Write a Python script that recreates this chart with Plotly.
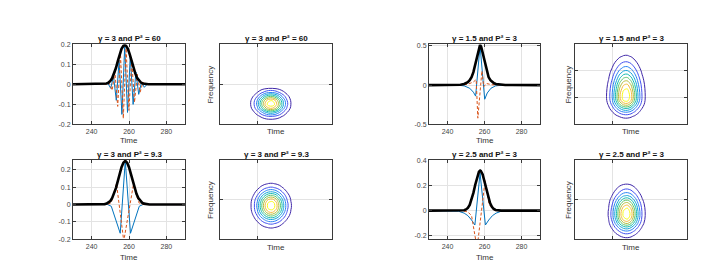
import plotly.graph_objects as go
from plotly.subplots import make_subplots

# ---------------- data ----------------
titles = {
    "a": "γ = 3 and P² = 60",
    "c": "γ = 3 and P² = 9.3",
    "e": "γ = 1.5 and P² = 3",
    "g": "γ = 2.5 and P² = 3",
}

time_ticks = [240, 260, 280]
time_tick_labels = ["240", "260", "280"]

# panel a: gamma = 3, P^2 = 60
env_t_a = [230, 245, 247, 248, 249, 250, 251, 252, 253, 254, 255, 256, 257, 257.7, 258.4, 259.4,
           260.4, 261.4, 262.4, 263.4, 264.4, 265.4, 266.4, 267.4, 268.4, 270.4, 290]
env_a = [0, 0.0002, 0.0017, 0.0039, 0.0086, 0.017, 0.031, 0.053, 0.081, 0.115, 0.149, 0.177, 0.192,
         0.195, 0.192, 0.177, 0.149, 0.115, 0.081, 0.053, 0.031, 0.017, 0.0086, 0.0039, 0.0017, 0.0002, 0]
re_t_a = [230, 247.2, 248.7, 250.2, 251.7, 253.2, 254.7, 256.2, 257.7, 259.2, 260.7, 262.2,
          263.7, 265.2, 266.7, 268.2, 269.7, 290]
re_a = [0, 0, 0.005, -0.02, 0.04, -0.08, 0.12, -0.15, 0.19, -0.14, 0.14, -0.10,
        0.06, -0.05, 0.01, -0.015, 0, 0]
im_t_a = [230, 247.9, 249.45, 250.95, 252.45, 253.95, 255.45, 256.95, 258.45, 259.95, 261.45,
          262.95, 264.45, 265.95, 267.45, 268.95, 290]
im_a = [0, 0, 0.005, -0.03, 0.06, -0.11, 0.15, -0.17, 0.18, -0.13, 0.12,
        -0.09, 0.05, -0.04, 0.01, 0, 0]

# panel c: gamma = 3, P^2 = 9.3
env_t_c = [230, 245, 247, 248, 249, 250, 251, 252, 253, 254, 255, 256, 257, 258, 259, 260, 261,
           262, 263, 264, 265, 266, 267, 268, 269, 271, 290]
env_c = [0, 0.0003, 0.0022, 0.005, 0.0104, 0.020, 0.037, 0.061, 0.094, 0.134, 0.176, 0.214, 0.240,
         0.25, 0.240, 0.214, 0.176, 0.134, 0.094, 0.061, 0.037, 0.020, 0.0104, 0.005, 0.0022, 0.0003, 0]
re_t_c = [230, 248.5, 250.5, 255.3, 258.0, 260.8, 265.5, 267.5, 290]
re_c = [0, 0, -0.01, -0.165, 0.25, -0.165, -0.01, 0, 0]
im_t_c = [230, 248.5, 250.5, 253.3, 257.2, 262.3, 265.3, 267.5, 290]
im_c = [0, 0, 0.01, 0.12, -0.21, 0.11, 0.01, 0, 0]

# panel e: gamma = 1.5, P^2 = 3
env_t_e = [230, 240, 244, 247, 249, 250, 251, 252, 253, 254, 255, 256, 256.5, 257, 257.6, 258.2,
           258.7, 259.2, 260.2, 261.2, 262.2, 263.2, 264.2, 265.2, 266.2, 268.2, 271.2, 275, 290]
env_e = [0, 0.0002, 0.0011, 0.0051, 0.0138, 0.0228, 0.0376, 0.0619, 0.1015, 0.164, 0.259, 0.381,
         0.440, 0.488, 0.51, 0.488, 0.440, 0.381, 0.259, 0.164, 0.1015, 0.0619, 0.0376, 0.0228,
         0.0138, 0.0051, 0.0011, 0.0002, 0]
re_t_e = [230, 245, 249, 252, 254, 255.2, 257.6, 260.1, 261.5, 263.5, 266, 270, 290]
re_e = [0, 0, -0.01, -0.04, -0.09, -0.14, 0.5, -0.18, -0.1, -0.04, -0.01, 0, 0]
im_t_e = [230, 246, 251, 254, 255.5, 256.4, 257.2, 258.6, 259.6, 261, 264, 268, 290]
im_e = [0, 0, 0.01, 0.04, 0.07, -0.42, -0.2, 0.18, -0.02, 0.02, 0.005, 0, 0]

# panel g: gamma = 2.5, P^2 = 3
env_t_g = [230, 245, 248, 249, 250, 251, 252, 253, 254, 255, 256, 257, 257.7, 258, 259, 260, 261,
           262, 263, 264, 265, 266, 267, 269, 290]
env_g = [0, 0, 0.0012, 0.0036, 0.0094, 0.022, 0.046, 0.086, 0.142, 0.207, 0.269, 0.311, 0.32,
         0.318, 0.289, 0.234, 0.167, 0.107, 0.060, 0.030, 0.013, 0.0053, 0.0019, 0.0002, 0]
re_t_g = [230, 240, 246, 249, 251, 253, 254.8, 257.6, 260.5, 262.3, 264.3, 266.3, 269, 275, 290]
re_g = [0, 0, -0.005, -0.02, -0.04, -0.075, -0.115, 0.30, -0.115, -0.075, -0.04, -0.02, -0.005, 0, 0]
im_t_g = [230, 248, 251, 253, 256.0, 260.3, 262.5, 265, 268, 290]
im_g = [0, 0, -0.01, -0.04, -0.30, 0.24, 0.05, 0.005, 0, 0]

# time-frequency maps (time marginal x frequency marginal)
cont_t = [238, 240, 242, 244, 246, 248, 250, 252, 254, 256, 258, 260, 262, 264, 266, 268, 270,
          272, 274, 276, 278]
cont_f = [-1.0, -0.9, -0.8, -0.7, -0.6, -0.5, -0.4, -0.3, -0.2, -0.1, 0.0, 0.1, 0.2, 0.3, 0.4,
          0.5, 0.6, 0.7, 0.8, 0.9, 1.0]
tprof_b = [0, 0.003, 0.01, 0.03, 0.08, 0.18, 0.34, 0.57, 0.80, 0.97, 0.99, 0.86, 0.64, 0.41, 0.22,
           0.10, 0.04, 0.01, 0, 0, 0]
fprof_b = [0.01, 0.06, 0.20, 0.46, 0.80, 0.99, 0.90, 0.60, 0.29, 0.10, 0.025, 0.005, 0, 0, 0, 0,
           0, 0, 0, 0, 0]
tprof_d = [0, 0.002, 0.01, 0.03, 0.07, 0.17, 0.33, 0.56, 0.79, 0.96, 0.99, 0.87, 0.65, 0.42, 0.23,
           0.11, 0.04, 0.01, 0, 0, 0]
fprof_d = [0.005, 0.015, 0.044, 0.11, 0.22, 0.40, 0.63, 0.85, 0.98, 0.98, 0.85, 0.63, 0.40, 0.22,
           0.11, 0.044, 0.015, 0.005, 0.001, 0, 0]
tprof_f = [0, 0.001, 0.006, 0.02, 0.06, 0.15, 0.31, 0.54, 0.79, 0.96, 0.99, 0.85, 0.61, 0.37, 0.19,
           0.08, 0.03, 0.01, 0, 0, 0]
fprof_f = [0.018, 0.054, 0.135, 0.29, 0.51, 0.76, 0.95, 1.0, 0.97, 0.90, 0.81, 0.69, 0.57, 0.45,
           0.34, 0.25, 0.17, 0.11, 0.07, 0.045, 0.027]
tprof_h = [0, 0.001, 0.003, 0.013, 0.04, 0.11, 0.26, 0.48, 0.74, 0.94, 1.0, 0.87, 0.63, 0.38, 0.19,
           0.08, 0.03, 0.01, 0, 0, 0]
fprof_h = [0.066, 0.146, 0.28, 0.47, 0.70, 0.89, 0.99, 0.98, 0.89, 0.75, 0.58, 0.41, 0.27, 0.17,
           0.094, 0.049, 0.023, 0.01, 0.004, 0.001, 0]

# ---------------- styling ----------------
FONT = "Liberation Sans, Arial, Helvetica, sans-serif"
BLUE = "#0072BD"
ORANGE = "#D95319"
FRAME = "#3a3a3a"
GRID = "#e3e3e3"
TICKC = "#444444"
parula = [[0.0, "#3e26a8"], [0.125, "#4352f0"], [0.25, "#2b84f5"], [0.375, "#15a5d9"],
          [0.5, "#14bbb1"], [0.625, "#5ec66d"], [0.75, "#b4bd3d"], [0.875, "#f4bb3a"],
          [1.0, "#f9fb15"]]

W, H = 726, 267
fig = make_subplots(rows=2, cols=4)

col_x = {1: (65, 177), 2: (212, 324), 3: (421, 532), 4: (567, 679)}
row_y = {1: (33, 115.5), 2: (152, 233.5)}


def px_dom_x(a, b):
    return [a / W, b / W]


def px_dom_y(top, bot):
    return [1 - bot / H, 1 - top / H]


def add_time_panel(row, col, env_t, env, re_t, re, im_t, im):
    fig.add_trace(go.Scatter(x=re_t, y=re, mode="lines", line=dict(color=BLUE, width=1),
                             showlegend=False, hoverinfo="skip"), row=row, col=col)
    fig.add_trace(go.Scatter(x=im_t, y=im, mode="lines",
                             line=dict(color=ORANGE, width=1, dash="3px,2px"),
                             showlegend=False, hoverinfo="skip"), row=row, col=col)
    fig.add_trace(go.Scatter(x=env_t, y=env, mode="lines", line=dict(color="black", width=2.6),
                             showlegend=False, hoverinfo="skip"), row=row, col=col)


def add_tf_panel(row, col, tprof, fprof):
    z = [[tv * fv for tv in tprof] for fv in fprof]
    fig.add_trace(go.Contour(x=cont_t, y=cont_f, z=z, autocontour=False,
                             contours=dict(start=0.1, end=0.9, size=0.1, coloring="lines"),
                             line=dict(width=1, smoothing=1.0), colorscale=parula,
                             zauto=False, zmin=0.1, zmax=0.9, showscale=False,
                             hoverinfo="skip"), row=row, col=col)


add_time_panel(1, 1, env_t_a, env_a, re_t_a, re_a, im_t_a, im_a)
add_time_panel(2, 1, env_t_c, env_c, re_t_c, re_c, im_t_c, im_c)
add_time_panel(1, 3, env_t_e, env_e, re_t_e, re_e, im_t_e, im_e)
add_time_panel(2, 3, env_t_g, env_g, re_t_g, re_g, im_t_g, im_g)
add_tf_panel(1, 2, tprof_b, fprof_b)
add_tf_panel(2, 2, tprof_d, fprof_d)
add_tf_panel(1, 4, tprof_f, fprof_f)
add_tf_panel(2, 4, tprof_h, fprof_h)

axis_common = dict(showline=True, linecolor=FRAME, linewidth=1, mirror="ticks", ticks="inside",
                   ticklen=3, tickcolor=FRAME, showgrid=True, gridcolor=GRID, gridwidth=1,
                   zeroline=False, tickfont=dict(family=FONT, size=7, color=TICKC))

y_ticks = {
    (1, 1): ([-0.2, -0.1, 0, 0.1, 0.2], ["-0.2", "-0.1", "0", "0.1", "0.2"], [-0.2, 0.2]),
    (2, 1): ([-0.2, -0.1, 0, 0.1, 0.2], ["-0.2", "-0.1", "0", "0.1", "0.2"], [-0.2, 0.255]),
    (1, 3): ([-0.5, 0, 0.5], ["-0.5", "0", "0.5"], [-0.5, 0.52]),
    (2, 3): ([-0.2, 0, 0.2, 0.4], ["-0.2", "0", "0.2", "0.4"], [-0.23, 0.405]),
}

idx = {(1, 1): 1, (1, 2): 2, (1, 3): 3, (1, 4): 4, (2, 1): 5, (2, 2): 6, (2, 3): 7, (2, 4): 8}
for (r, c), i in idx.items():
    xa = "xaxis" if i == 1 else f"xaxis{i}"
    ya = "yaxis" if i == 1 else f"yaxis{i}"
    xd = px_dom_x(*col_x[c])
    yd = px_dom_y(*row_y[r])
    if c in (1, 3):
        tv, tt, rng = y_ticks[(r, c)]
        fig.layout[xa].update(domain=xd, range=[230, 290], tickvals=time_ticks,
                              ticktext=time_tick_labels, **axis_common)
        fig.layout[ya].update(domain=yd, range=rng, tickvals=tv, ticktext=tt, **axis_common)
    else:
        fvals = [-1 / 3, 1 / 3] if (r, c) == (1, 4) else [0]
        fig.layout[xa].update(domain=xd, range=[230, 290], tickvals=[250],
                              showticklabels=False, **axis_common)
        fig.layout[ya].update(domain=yd, range=[-1, 1], tickvals=fvals,
                              showticklabels=False, **axis_common)

# titles and labels
ann = []
title_pos = [((121, 27), titles["a"]), ((268, 27), titles["a"]), ((476.5, 27), titles["e"]),
             ((623, 27), titles["e"]), ((121, 146), titles["c"]), ((268, 146), titles["c"]),
             ((476.5, 146), titles["g"]), ((623, 146), titles["g"])]
for (x, y), t in title_pos:
    ann.append(dict(x=x / W, y=1 - y / H, xref="paper", yref="paper", text=t,
                    showarrow=False, xanchor="center", yanchor="middle",
                    font=dict(family=FONT, size=8, color="#111111", weight="bold")))
time_pos = [(121, 132), (268, 123), (476.5, 132), (623, 123),
            (121, 252), (268, 242), (476.5, 252), (623, 242)]
for x, y in time_pos:
    ann.append(dict(x=x / W, y=1 - y / H, xref="paper", yref="paper", text="Time",
                    showarrow=False, xanchor="center", yanchor="middle",
                    font=dict(family=FONT, size=8, color="#333333")))
for x, y in [(203, 74.5), (561, 74.5), (203, 193), (561, 193)]:
    ann.append(dict(x=x / W, y=1 - y / H, xref="paper", yref="paper", text="Frequency",
                    showarrow=False, xanchor="center", yanchor="middle", textangle=-90,
                    font=dict(family=FONT, size=8, color="#333333")))

fig.update_layout(width=W, height=H, autosize=False, margin=dict(l=0, r=0, t=0, b=0),
                  paper_bgcolor="white", plot_bgcolor="white", annotations=ann,
                  font=dict(family=FONT))

fig.write_html("out.html")
